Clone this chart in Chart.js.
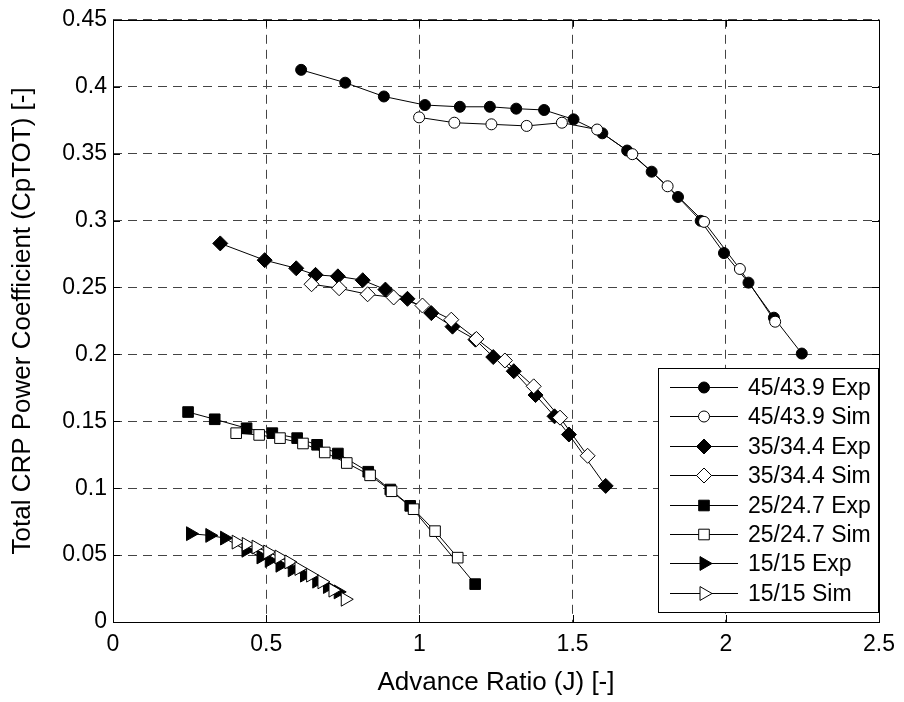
<!DOCTYPE html>
<html>
<head>
<meta charset="utf-8">
<script src="https://cdn.jsdelivr.net/npm/chart.js@4.4.0/dist/chart.umd.min.js"></script>
<style>
  html, body { margin: 0; padding: 0; background: #fff; }
  #wrap { width: 904px; height: 702px; }
</style>
</head>
<body>
<div id="wrap"><canvas id="myChart"></canvas></div>
<script>
// advance ratio J / power coefficient CpTOT
const exp45J  = [0.614, 0.758, 0.884, 1.018, 1.132, 1.230, 1.316, 1.407, 1.503, 1.597, 1.678, 1.758, 1.844, 1.918, 1.994, 2.074, 2.157, 2.248];
const exp45Cp = [0.4126, 0.4030, 0.3927, 0.3863, 0.3850, 0.3850, 0.3836, 0.3826, 0.3756, 0.3652, 0.3523, 0.3365, 0.3176, 0.2998, 0.2757, 0.2536, 0.2274, 0.2006];

const sim45J  = [0.999, 1.114, 1.235, 1.350, 1.465, 1.580, 1.695, 1.810, 1.929, 2.046, 2.161];
const sim45Cp = [0.3771, 0.3731, 0.3719, 0.3707, 0.3731, 0.3680, 0.3496, 0.3256, 0.2990, 0.2638, 0.2244];

const exp35J  = [0.350, 0.495, 0.598, 0.661, 0.734, 0.815, 0.889, 0.961, 1.039, 1.108, 1.183, 1.241, 1.308, 1.379, 1.441, 1.488, 1.608];
const exp35Cp = [0.2829, 0.2704, 0.2643, 0.2594, 0.2583, 0.2554, 0.2484, 0.2415, 0.2308, 0.2207, 0.2110, 0.1980, 0.1874, 0.1696, 0.1537, 0.1401, 0.1017];

const sim35J  = [0.648, 0.738, 0.831, 0.916, 1.010, 1.104, 1.186, 1.279, 1.373, 1.459, 1.549];
const sim35Cp = [0.2524, 0.2494, 0.2449, 0.2425, 0.2365, 0.2259, 0.2115, 0.1954, 0.1761, 0.1527, 0.1242];

const exp25J  = [0.245, 0.332, 0.436, 0.520, 0.601, 0.666, 0.734, 0.833, 0.905, 0.970, 1.182];
const exp25Cp = [0.1569, 0.1515, 0.1448, 0.1411, 0.1374, 0.1324, 0.1259, 0.1123, 0.0990, 0.0868, 0.0283];

const sim25J  = [0.402, 0.477, 0.545, 0.620, 0.691, 0.763, 0.839, 0.909, 0.981, 1.051, 1.125];
const sim25Cp = [0.1411, 0.1398, 0.1374, 0.1334, 0.1267, 0.1188, 0.1096, 0.0977, 0.0843, 0.0679, 0.0481];

const exp15J  = [0.253, 0.316, 0.364, 0.434, 0.483, 0.510, 0.545, 0.585, 0.625, 0.665, 0.700, 0.735];
const exp15Cp = [0.0660, 0.0647, 0.0627, 0.0536, 0.0486, 0.0460, 0.0424, 0.0390, 0.0350, 0.0305, 0.0265, 0.0225];

const sim15J  = [0.402, 0.435, 0.467, 0.505, 0.542, 0.574, 0.607, 0.645, 0.682, 0.718, 0.758];
const sim15Cp = [0.0597, 0.0580, 0.0560, 0.0523, 0.0486, 0.0449, 0.0400, 0.0350, 0.0300, 0.0238, 0.0170];

const seriesNames = ['45/43.9 Exp', '45/43.9 Sim', '35/34.4 Exp', '35/34.4 Sim',
                     '25/24.7 Exp', '25/24.7 Sim', '15/15 Exp', '15/15 Sim'];

const xTicks = [0, 0.5, 1, 1.5, 2, 2.5];
const xTickLabels = ['0', '0.5', '1', '1.5', '2', '2.5'];
const yTicks = [0, 0.05, 0.1, 0.15, 0.2, 0.25, 0.3, 0.35, 0.4, 0.45];
const yTickLabels = ['0', '0.05', '0.1', '0.15', '0.2', '0.25', '0.3', '0.35', '0.4', '0.45'];

const FONT = "'Liberation Sans', Arial, Helvetica, sans-serif";
Chart.defaults.font.family = FONT;
Chart.defaults.color = '#000';

const toPoints = (xs, ys) => xs.map((v, i) => ({ x: v, y: ys[i] }));

// marker look for each series: [pointStyle, radius, rotation, filled]
const markers = [
  ['circle', 5.5, 0, true], ['circle', 5.5, 0, false],
  ['rectRot', 7.5, 0, true], ['rectRot', 7.5, 0, false],
  ['rect', 7.5, 0, true], ['rect', 7.5, 0, false],
  ['triangle', 8, 90, true], ['triangle', 8, 90, false],
];

const allData = [
  toPoints(exp45J, exp45Cp), toPoints(sim45J, sim45Cp),
  toPoints(exp35J, exp35Cp), toPoints(sim35J, sim35Cp),
  toPoints(exp25J, exp25Cp), toPoints(sim25J, sim25Cp),
  toPoints(exp15J, exp15Cp), toPoints(sim15J, sim15Cp),
];

const datasets = allData.map((pts, i) => ({
  label: seriesNames[i],
  data: pts,
  showLine: true,
  borderColor: '#000',
  borderWidth: 1,
  pointStyle: markers[i][0],
  pointRadius: markers[i][1],
  pointRotation: markers[i][2],
  pointBackgroundColor: markers[i][3] ? '#000' : '#fff',
  pointBorderColor: '#000',
  pointBorderWidth: 1,
  order: 20 - i,   // later series on top, like the original
}));

function drawMarker(ctx, style, r, filled, x, y) {
  ctx.beginPath();
  if (style === 'circle') {
    ctx.arc(x, y, r, 0, Math.PI * 2);
  } else if (style === 'rectRot') {
    ctx.moveTo(x, y - r); ctx.lineTo(x + r, y); ctx.lineTo(x, y + r); ctx.lineTo(x - r, y);
  } else if (style === 'rect') {
    const s = r * Math.SQRT1_2;
    ctx.rect(x - s, y - s, 2 * s, 2 * s);
  } else {
    const h = r * Math.sin(Math.PI / 3);
    ctx.moveTo(x + r, y); ctx.lineTo(x - r / 2, y - h); ctx.lineTo(x - r / 2, y + h);
  }
  ctx.closePath();
  ctx.fillStyle = filled ? '#000' : '#fff';
  ctx.fill();
  ctx.strokeStyle = '#000';
  ctx.lineWidth = 1;
  ctx.stroke();
}

const frameAndLegend = {
  id: 'frameAndLegend',
  afterDatasetsDraw(chart) {
    const { ctx, chartArea: a, scales: { x, y } } = chart;
    ctx.save();
    ctx.setLineDash([]);
    ctx.strokeStyle = '#000';
    ctx.lineWidth = 1;
    ctx.beginPath();
    xTicks.forEach(v => {
      const px = Math.round(x.getPixelForValue(v)) + 0.5;
      ctx.moveTo(px, a.bottom); ctx.lineTo(px, a.bottom - 7);
      ctx.moveTo(px, a.top); ctx.lineTo(px, a.top + 7);
    });
    yTicks.forEach(v => {
      const py = Math.round(y.getPixelForValue(v)) + 0.5;
      ctx.moveTo(a.left, py); ctx.lineTo(a.left + 7, py);
      ctx.moveTo(a.right, py); ctx.lineTo(a.right - 7, py);
    });
    ctx.stroke();
    ctx.strokeRect(Math.round(a.left) + 0.5, Math.round(a.top) + 0.5,
                   Math.round(a.right - a.left), Math.round(a.bottom - a.top));

    // legend box, lower right inside the plot
    const lx = 658, ly = 368, lw = 220, lh = 244, rowH = 29.4;
    ctx.fillStyle = '#fff';
    ctx.fillRect(lx, ly, lw, lh);
    ctx.strokeRect(lx + 0.5, ly + 0.5, lw, lh);
    ctx.font = '23px ' + FONT;
    ctx.textBaseline = 'middle';
    ctx.textAlign = 'left';
    seriesNames.forEach((name, i) => {
      const cy = Math.round(ly + 19 + i * rowH) + 0.5;
      ctx.beginPath();
      ctx.moveTo(lx + 12, cy); ctx.lineTo(lx + 80, cy);
      ctx.strokeStyle = '#000';
      ctx.stroke();
      drawMarker(ctx, markers[i][0], markers[i][1], markers[i][3], lx + 46, cy);
      ctx.fillStyle = '#000';
      ctx.fillText(name, lx + 90, cy + 1);
    });
    ctx.restore();
  }
};

new Chart(document.getElementById('myChart'), {
  type: 'scatter',
  data: { datasets },
  plugins: [frameAndLegend],
  options: {
    responsive: true,
    maintainAspectRatio: false,
    animation: false,
    layout: { padding: { top: 17, right: 20, left: 0, bottom: 0 } },
    plugins: { legend: { display: false }, tooltip: { enabled: false } },
    scales: {
      x: {
        type: 'linear', min: 0, max: 2.5,
        afterBuildTicks: s => { s.ticks = xTicks.map(v => ({ value: v })); },
        afterFit: s => { s.height = 80; },
        ticks: { font: { size: 23 }, padding: 9, maxRotation: 0,
                 callback: (v, i) => xTickLabels[i] },
        grid: { color: '#444', lineWidth: 1, drawTicks: false },
        border: { display: false, dash: [9, 6] },
        title: { display: true, text: 'Advance Ratio (J) [-]',
                 font: { size: 26 }, padding: { top: 0, bottom: 4 } },
      },
      y: {
        type: 'linear', min: 0, max: 0.45,
        afterBuildTicks: s => { s.ticks = yTicks.map(v => ({ value: v })); },
        afterFit: s => { s.width = 113; },
        ticks: { font: { size: 23 }, padding: 6,
                 callback: (v, i) => yTickLabels[i] },
        grid: { color: '#444', lineWidth: 1, drawTicks: false },
        border: { display: false, dash: [9, 6] },
        title: { display: true, text: 'Total CRP Power Coefficient (CpTOT) [-]',
                 font: { size: 26 }, padding: { top: 7, bottom: 0 } },
      }
    }
  }
});
</script>
</body>
</html>
